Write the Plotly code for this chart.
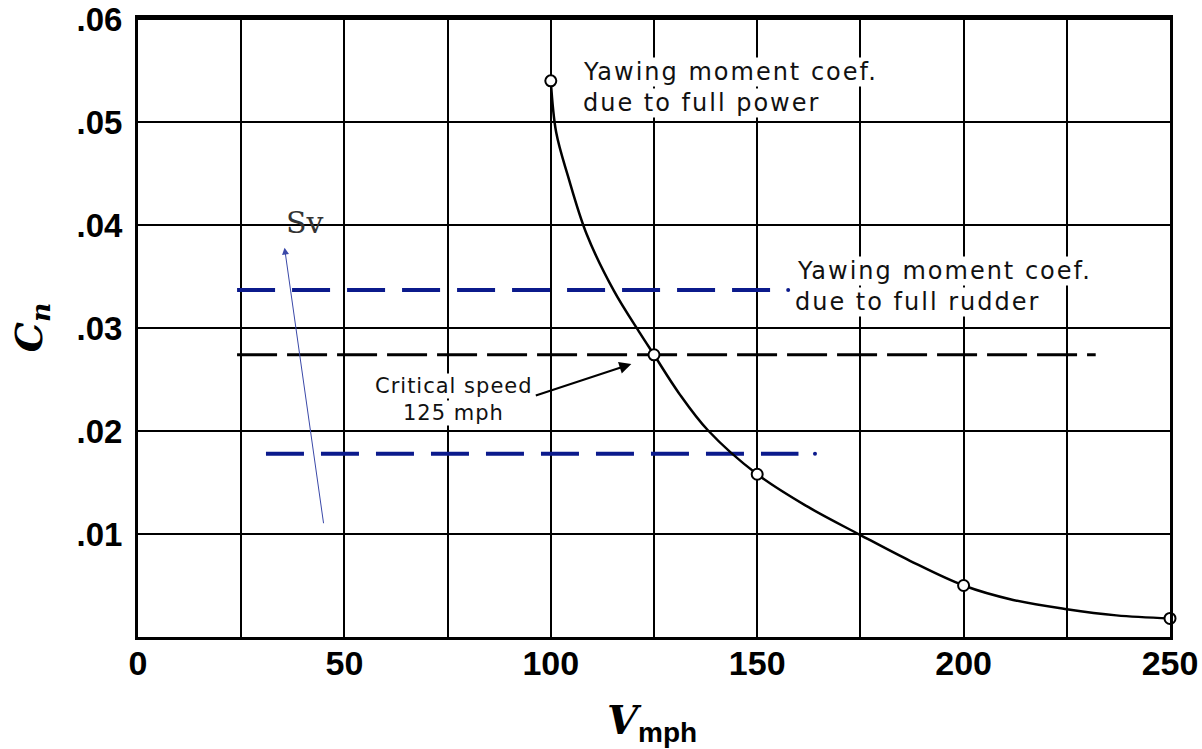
import plotly.graph_objects as go

# ---- data ----
curve_v = [100, 101.3, 104.2, 108.7, 115.3, 121.6, 125, 131, 138, 150, 162, 175, 187, 200,
           212, 225, 237, 250]
curve_cn = [0.0540, 0.0490, 0.0447, 0.0391, 0.0336, 0.0295, 0.0274, 0.0237, 0.0201, 0.0158,
            0.0127, 0.0099, 0.0074, 0.0050, 0.0036, 0.0027, 0.0021, 0.0018]
point_v = [100, 125, 150, 200, 250]
point_cn = [0.0540, 0.0274, 0.0158, 0.0050, 0.0018]

rudder_hi_v = [24, 154]
rudder_hi_cn = [0.0337, 0.0337]
rudder_hi_dot_v = [157.5]
rudder_mid_v = [24, 232]
rudder_mid_cn = [0.0274, 0.0274]
rudder_lo_v = [31, 160]
rudder_lo_cn = [0.0178, 0.0178]
rudder_lo_dot_v = [164]

x_ticks = [0, 50, 100, 150, 200, 250]
y_ticks = [0.01, 0.02, 0.03, 0.04, 0.05, 0.06]
y_tick_text = [".01", ".02", ".03", ".04", ".05", ".06"]

BLUE = "#0b1a8c"

fig = go.Figure()

# blue dashed rudder lines
fig.add_trace(go.Scatter(x=rudder_hi_v, y=rudder_hi_cn, mode="lines",
                         line=dict(color=BLUE, width=4, dash="38px,17px"), hoverinfo="skip"))
fig.add_trace(go.Scatter(x=rudder_hi_dot_v, y=[rudder_hi_cn[0]], mode="markers",
                         marker=dict(color=BLUE, size=4), hoverinfo="skip"))
fig.add_trace(go.Scatter(x=rudder_lo_v, y=rudder_lo_cn, mode="lines",
                         line=dict(color=BLUE, width=4, dash="38px,17px"), hoverinfo="skip"))
fig.add_trace(go.Scatter(x=rudder_lo_dot_v, y=[rudder_lo_cn[0]], mode="markers",
                         marker=dict(color=BLUE, size=4), hoverinfo="skip"))
# black dashed line
fig.add_trace(go.Scatter(x=rudder_mid_v, y=rudder_mid_cn, mode="lines",
                         line=dict(color="black", width=3, dash="40px,10px"), hoverinfo="skip"))

# power curve
fig.add_trace(go.Scatter(x=curve_v, y=curve_cn, mode="lines",
                         line=dict(color="black", width=2.5, shape="spline", smoothing=1.0),
                         hoverinfo="skip"))
fig.add_trace(go.Scatter(x=point_v, y=point_cn, mode="markers",
                         marker=dict(color="white", size=11, line=dict(color="black", width=2)),
                         hoverinfo="skip", cliponaxis=False))

sans = "DejaVu Sans"


def note(x, ypx, text, size=24, anchor="left", spacing=2):
    fig.add_annotation(x=x, y=(637 - ypx) / 10320, xref="x", yref="y", xanchor=anchor,
                       yanchor="middle",
                       text=f"<span style='letter-spacing:{spacing}px'>{text}</span>",
                       showarrow=False, borderpad=0,
                       font=dict(family=sans, size=size, color="#111"), bgcolor="white")


note(107.5, 71, "Yawing moment coef.")
note(107.5, 102, "due to full power")
note(159.5, 270, "Yawing moment coef.")
note(159.0, 301, "due to full rudder")
note(76.5, 385, "Critical speed", size=21, anchor="center", spacing=1)
note(76.5, 413, "125 mph", size=21, anchor="center", spacing=1)

# critical speed arrow
fig.add_annotation(x=119.5, y=0.0265, ax=96, ay=0.0234, xref="x", yref="y", axref="x", ayref="y",
                   text="", showarrow=True, arrowhead=2, arrowsize=1.2, arrowwidth=2,
                   arrowcolor="black")
# Sv arrow
fig.add_annotation(x=35.5, y=0.0378, ax=45, ay=0.0109, xref="x", yref="y", axref="x", ayref="y",
                   text="", showarrow=True, arrowhead=2, arrowsize=1.4, arrowwidth=1,
                   arrowcolor="#3a48a8")
fig.add_annotation(x=40.5, y=0.0402, xref="x", yref="y", text="Sv", showarrow=False,
                   font=dict(family="DejaVu Serif", size=30, color="#333"))

# axis titles
fig.add_annotation(x=-0.104, y=0.50, xref="paper", yref="paper", xanchor="center", yanchor="middle",
                   text="<b><i>C</i></b><sub><b><i>n</i></b></sub>", showarrow=False, textangle=-90,
                   font=dict(family="DejaVu Serif", size=38, color="black"))
fig.add_annotation(x=0.498, y=-0.092, xref="paper", yref="paper", xanchor="center", yanchor="top",
                   text="<b><i>V</i></b><sub><span style='font-family:Liberation Sans;font-weight:bold;font-size:28px'>mph</span></sub>",
                   showarrow=False,
                   font=dict(family="DejaVu Serif", size=40, color="black"))

fig.update_xaxes(range=[0, 250], tickvals=x_ticks, ticktext=[str(v) for v in x_ticks],
                 showgrid=True, gridcolor="black", gridwidth=2,
                 minor=dict(dtick=25, showgrid=True, gridcolor="black", gridwidth=2, ticks=""),
                 showline=True, linecolor="black", linewidth=3, mirror=True,
                 ticks="", zeroline=False, ticklabelstandoff=-6, automargin=False,
                 ticklabeloverflow="allow",
                 tickfont=dict(family="Liberation Sans", size=34, color="black", weight="bold"))
fig.update_yaxes(range=[0, 0.0601], tickvals=y_ticks, ticktext=y_tick_text,
                 showgrid=True, gridcolor="black", gridwidth=2,
                 showline=True, linecolor="black", linewidth=3, mirror=True,
                 ticks="", zeroline=False, ticklabelstandoff=6, automargin=False,
                 ticklabeloverflow="allow",
                 tickfont=dict(family="Liberation Sans", size=33, color="black", weight="bold"))

fig.update_layout(width=1202, height=749, margin=dict(l=138, r=32, t=18, b=112),
                  plot_bgcolor="white", paper_bgcolor="white", showlegend=False)

fig.write_html("out.html")
